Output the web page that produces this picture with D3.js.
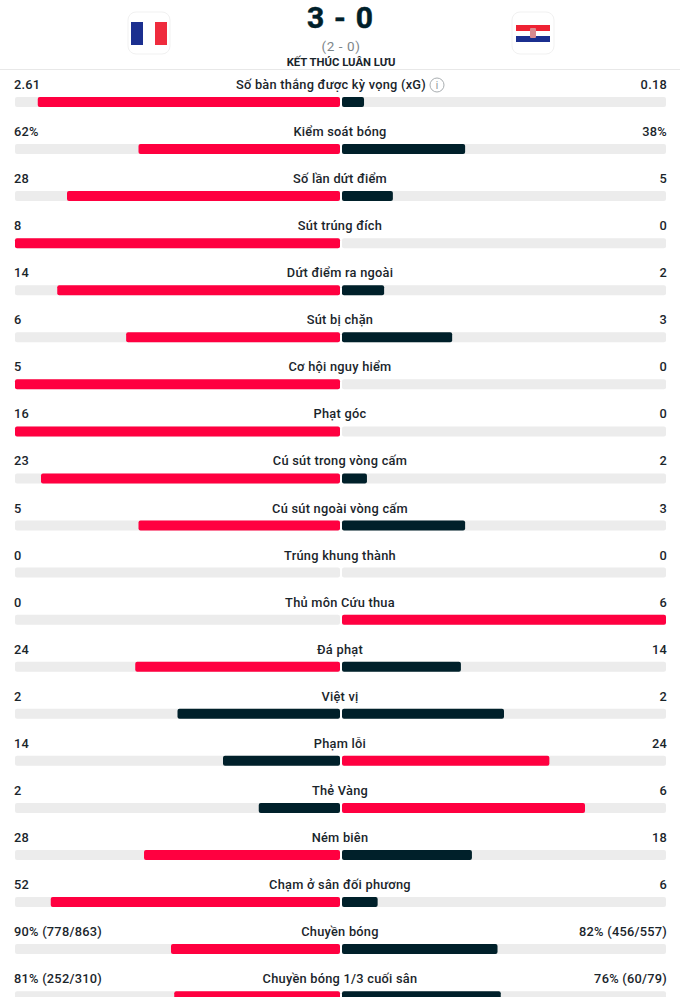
<!DOCTYPE html>
<html><head><meta charset="utf-8">
<style>html,body{margin:0;padding:0;background:#fff;overflow:hidden}svg{display:block}</style>
<script src="https://cdn.jsdelivr.net/npm/d3@7/dist/d3.min.js"></script></head>
<body><svg id="c" width="680" height="997"></svg>
<script>
const categories=["Số bàn thắng được kỳ vọng (xG)","Kiểm soát bóng","Số lần dứt điểm","Sút trúng đích","Dứt điểm ra ngoài","Sút bị chặn","Cơ hội nguy hiểm","Phạt góc","Cú sút trong vòng cấm","Cú sút ngoài vòng cấm","Trúng khung thành","Thủ môn Cứu thua","Đá phạt","Việt vị","Phạm lỗi","Thẻ Vàng","Ném biên","Chạm ở sân đối phương","Chuyền bóng","Chuyền bóng 1/3 cuối sân"];
const homeLabels=["2.61","62%","28","8","14","6","5","16","23","5","0","0","24","2","14","2","28","52","90% (778/863)","81% (252/310)"];
const awayLabels=["0.18","38%","5","0","2","3","0","0","2","3","0","6","14","2","24","6","18","6","82% (456/557)","76% (60/79)"];
// bar lengths, in percent of each half-track
const homeBar=[93,62,84,100,87,65.8,100,100,92,62,0,0,63,50,36,25,60.3,89,52,51];
const awayBar=[6.8,38,15.7,0,13,34,0,0,7.7,38,0,100,36.7,50,64,75,40.1,11,48,49];
const RED="#ff0040",DARK="#00202a",TRACK="#ececec",INK="#1a252b";
const svg=d3.select("#c");
const font="Roboto, sans-serif";
const rowY=d3.scaleLinear().domain([0,1]).range([97,144.06]);
const leftX=d3.scaleLinear().domain([0,100]).range([340,15]);
const rightX=d3.scaleLinear().domain([0,100]).range([342,666]);
const col=(a,b)=>a>b?RED:DARK;

// header
svg.append("rect").attr("x",0).attr("y",69).attr("width",680).attr("height",1).attr("fill","#e8e8e8");
svg.append("text").attr("x",340).attr("y",28).attr("text-anchor","middle").attr("font-family",font).attr("font-weight",700).attr("font-size",30).attr("fill",DARK).attr("stroke",DARK).attr("stroke-width",0.5).attr("textLength",66).attr("lengthAdjust","spacing").text("3 - 0");
svg.append("text").attr("x",341).attr("y",51).attr("text-anchor","middle").attr("font-family",font).attr("font-size",13.5).attr("letter-spacing",0.6).attr("fill","#7d8589").text("(2 - 0)");
svg.append("text").attr("x",341).attr("y",66).attr("text-anchor","middle").attr("font-family",font).attr("font-weight",700).attr("font-size",11.3).attr("fill",INK).text("KẾT THÚC LUÂN LƯU");
function box(x){svg.append("rect").attr("x",x).attr("y",12).attr("width",42).attr("height",42).attr("rx",8).attr("fill","#fff").attr("stroke","#f1f1f1").attr("stroke-width",1);}
box(128);box(512);
[["#1b2f8f",131],["#ffffff",143],["#ef2b3d",155]].forEach(([c,x])=>svg.append("rect").attr("x",x).attr("y",22).attr("width",12).attr("height",23).attr("fill",c));
[["#ee2233",25],["#ffffff",31],["#1b2f8f",36]].forEach(([c,y])=>svg.append("rect").attr("x",516).attr("y",y).attr("width",34).attr("height",y==31?5:6).attr("fill",c));
svg.append("rect").attr("x",530).attr("y",28).attr("width",6).attr("height",10).attr("rx",1).attr("fill","#d98a8f");

// rows
const rows=svg.selectAll("g.row").data(categories.map((c,i)=>({c,i,h:homeBar[i],a:awayBar[i],hl:homeLabels[i],al:awayLabels[i]}))).join("g").attr("class","row").attr("transform",d=>`translate(0,${rowY(d.i)})`);
rows.append("rect").attr("x",leftX(100)).attr("y",0).attr("width",leftX(0)-leftX(100)).attr("height",10).attr("rx",2).attr("fill",TRACK);
rows.append("rect").attr("x",rightX(0)).attr("y",0).attr("width",rightX(100)-rightX(0)).attr("height",10).attr("rx",2).attr("fill",TRACK);
rows.filter(d=>d.h>0).append("rect").attr("x",d=>leftX(d.h)).attr("y",0).attr("width",d=>leftX(0)-leftX(d.h)).attr("height",10).attr("rx",2).attr("fill",d=>col(d.h,d.a));
rows.filter(d=>d.a>0).append("rect").attr("x",rightX(0)).attr("y",0).attr("width",d=>rightX(d.a)-rightX(0)).attr("height",10).attr("rx",2).attr("fill",d=>col(d.a,d.h));
const txt=(sel,x,anchor,f)=>sel.append("text").attr("x",x).attr("y",-8).attr("text-anchor",anchor).attr("font-family",font).attr("font-weight",500).attr("font-size",12.8).attr("letter-spacing",0.25).attr("fill",INK).text(f);
txt(rows,14,"start",d=>d.hl);
txt(rows,667,"end",d=>d.al);
txt(rows,d=>d.i===0?331:340,"middle",d=>d.c);
// info icon on the first row
const info=svg.append("g").attr("transform","translate(437,85)");
info.append("circle").attr("r",7).attr("fill","none").attr("stroke","#a9aeb1");
info.append("text").attr("y",3.5).attr("text-anchor","middle").attr("font-family",font).attr("font-size",10).attr("fill","#8d9397").text("i");
</script></body></html>
